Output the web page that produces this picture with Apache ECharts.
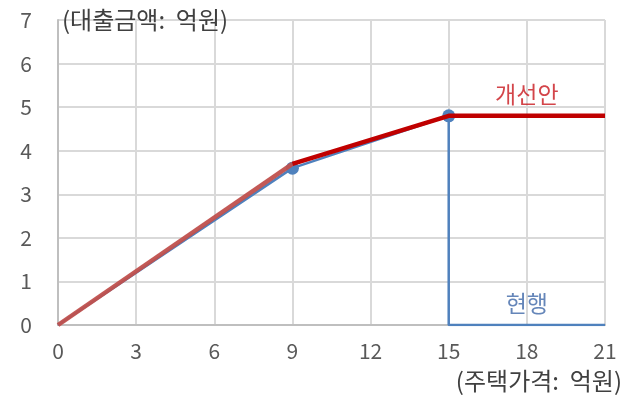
<!DOCTYPE html>
<html>
<head>
<meta charset="utf-8">
<script src="https://cdn.jsdelivr.net/npm/echarts@6/dist/echarts.min.js"></script>
<style>
  html, body { margin: 0; padding: 0; background: #fff; overflow: hidden; }
  #chart { width: 632px; height: 401px; }
</style>
</head>
<body>
<div id="chart"></div>
<script>
// Housing price (억원) vs. loan amount (억원)
const xTicks = [0, 3, 6, 9, 12, 15, 18, 21];
const yTicks = [0, 1, 2, 3, 4, 5, 6, 7];

// 현행 (current rule): rises to 15, then drops to zero
const currentX = [0, 9, 15, 15, 21];
const currentY = [0, 3.6, 4.8, 0, 0];

// 개선안 (proposal): first segment and the continuation after 9
const proposalAX = [0, 9];
const proposalAY = [0, 3.7];
const proposalBX = [9, 15, 21];
const proposalBY = [3.7, 4.8, 4.8];

const FONT = '"Noto Sans CJK KR", "Noto Sans", sans-serif';
const pair = (xs, ys) => xs.map((x, i) => [x, ys[i]]);

const currentData = pair(currentX, currentY).map((p, i) => {
  const item = { value: p };
  if (i === 1 || i === 2) { item.symbol = 'circle'; item.symbolSize = 13; }
  return item;
});

// series name labels, anchored on each line at x = 18
const nameLabel = (x, y, text, color, dist) => ({
  value: [x, y],
  label: { show: true, position: 'top', distance: dist, formatter: text,
    color: color, fontSize: 23, fontFamily: FONT }
});

const chart = echarts.init(document.getElementById('chart'), null, { renderer: 'canvas', width: 632, height: 401 });
chart.setOption({
  animation: false,
  grid: { left: 58, right: 27, top: 20, bottom: 76, containLabel: false, outerBoundsMode: 'none' },
  xAxis: {
    type: 'value', min: xTicks[0], max: xTicks[xTicks.length - 1], interval: 3,
    axisLine: { show: true, lineStyle: { color: '#bfbfbf', width: 2 } },
    axisTick: { show: false },
    splitLine: { show: true, lineStyle: { color: '#d9d9d9', width: 2 } },
    axisLabel: { color: '#595959', fontSize: 21, fontFamily: FONT, margin: 16 },
    name: '(주택가격:  억원)', nameLocation: 'end', nameGap: 17,
    nameTextStyle: { color: '#404040', fontSize: 24, fontFamily: FONT,
      align: 'right', verticalAlign: 'top', padding: [44, 0, 0, 0] }
  },
  yAxis: {
    type: 'value', min: yTicks[0], max: yTicks[yTicks.length - 1], interval: 1,
    axisLine: { show: true, lineStyle: { color: '#bfbfbf', width: 2 } },
    axisTick: { show: false },
    splitLine: { show: true, lineStyle: { color: '#d9d9d9', width: 2 } },
    axisLabel: { color: '#595959', fontSize: 21, fontFamily: FONT, margin: 26 },
    name: '(대출금액:  억원)', nameLocation: 'end', nameGap: 0,
    nameTextStyle: { color: '#404040', fontSize: 24, fontFamily: FONT,
      align: 'left', verticalAlign: 'middle', padding: [6, 0, 0, 4] }
  },
  series: [
    {
      name: '현행', type: 'line', data: currentData,
      symbol: 'none', showSymbol: true,
      lineStyle: { color: '#4f81bd', width: 2.5 },
      itemStyle: { color: '#4f81bd' },
      z: 2
    },
    {
      name: '개선안1', type: 'line', data: pair(proposalAX, proposalAY),
      symbol: 'none',
      lineStyle: { color: '#c0504d', width: 4.5, opacity: 0.95 },
      z: 3
    },
    {
      name: '개선안2', type: 'line', data: pair(proposalBX, proposalBY),
      symbol: 'none',
      lineStyle: { color: '#c00000', width: 4.5 },
      z: 3
    },
    {
      name: 'labels', type: 'scatter', symbolSize: 2,
      itemStyle: { color: 'rgba(0,0,0,0)' },
      silent: true, z: 5,
      data: [
        nameLabel(18, proposalBY[proposalBY.length - 1], '개선안', '#c8161d', 9),
        nameLabel(18, currentY[currentY.length - 1], '현행', '#3f68a8', 9)
      ]
    }
  ]
});
</script>
</body>
</html>
